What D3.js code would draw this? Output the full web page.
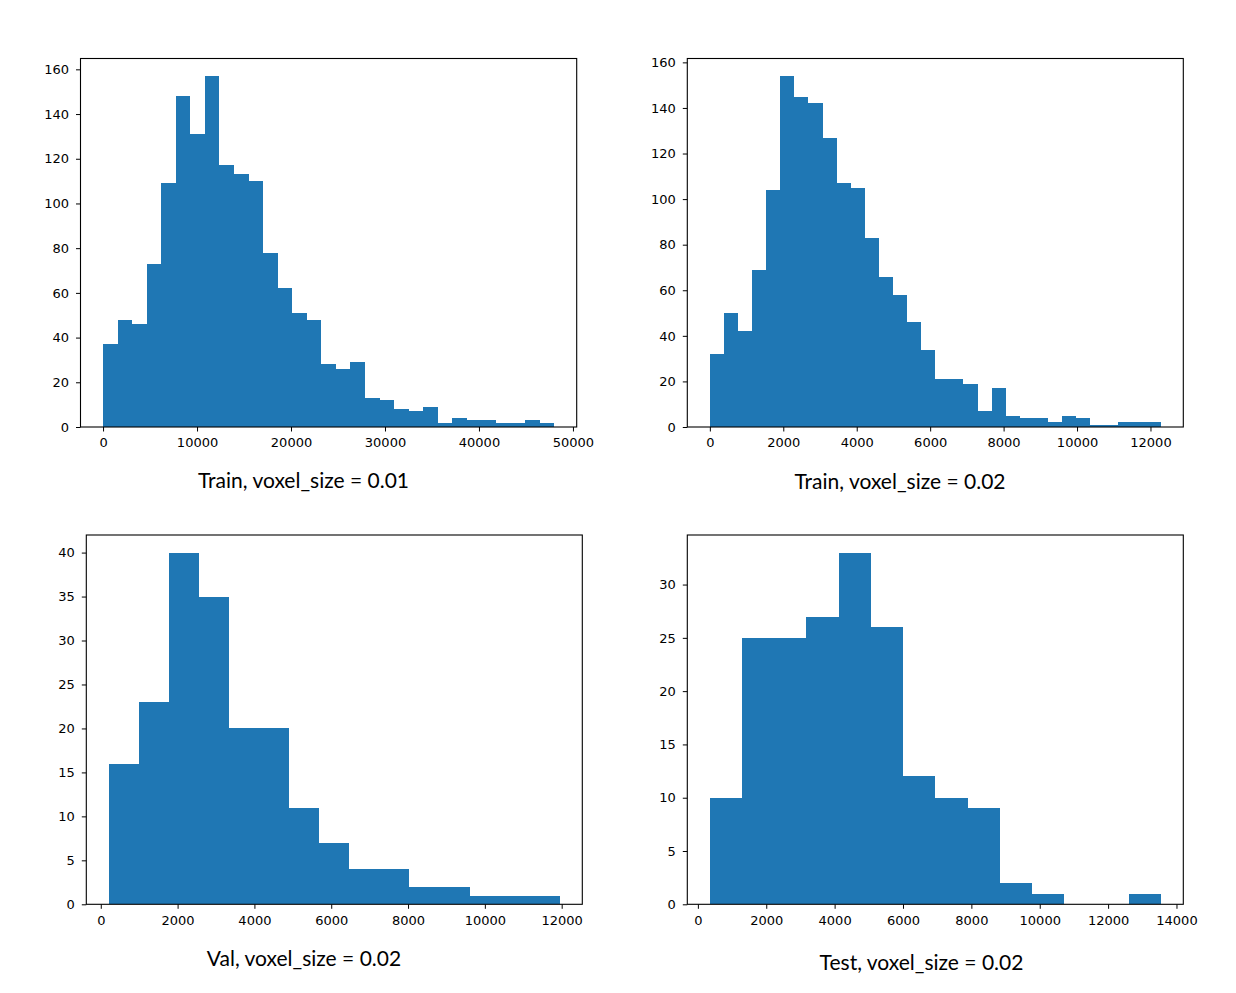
<!DOCTYPE html>
<html>
<head>
<meta charset="utf-8">
<script src="https://cdn.jsdelivr.net/npm/d3@7"></script>
<style>
    body { margin: 0; background: #fff; }
    .tick text { font-family: "DejaVu Sans", sans-serif; font-size: 13px; fill: #000; }
    .tick line { stroke: #000; }
    .domain { display: none; }
</style>
</head>
<body>
<script>

// histogram counts
var trainCounts001 = [37, 48, 46, 73, 109, 148, 131, 157, 117, 113, 110, 78, 62, 51, 48, 28,
    26, 29, 13, 12, 8, 7, 9, 2, 4, 3, 3, 2, 2, 3, 2];
var trainCounts002 = [32, 50, 42, 69, 104, 154, 145, 142, 127, 107, 105, 83, 66, 58, 46, 34,
    21, 21, 19, 7, 17, 5, 4, 4, 2, 5, 4, 1, 1, 2, 2, 2];
var valCounts = [16, 23, 40, 35, 20, 20, 11, 7, 4, 4, 2, 2, 1, 1, 1];
var testCounts = [10, 25, 25, 27, 33, 26, 12, 10, 9, 2, 1, 0, 0, 1];

// first and last bin edge of each histogram
var trainRange001 = [0, 48000];
var trainRange002 = [0, 12280];
var valRange = [210, 11950];
var testRange = [350, 13540];

// tick labels
var xTicks1 = [0, 10000, 20000, 30000, 40000, 50000];
var xTicks2 = [0, 2000, 4000, 6000, 8000, 10000, 12000];
var xTicks3 = [0, 2000, 4000, 6000, 8000, 10000, 12000];
var xTicks4 = [0, 2000, 4000, 6000, 8000, 10000, 12000, 14000];
var yTicks1 = [0, 20, 40, 60, 80, 100, 120, 140, 160];
var yTicks2 = [0, 20, 40, 60, 80, 100, 120, 140, 160];
var yTicks3 = [0, 5, 10, 15, 20, 25, 30, 35, 40];
var yTicks4 = [0, 5, 10, 15, 20, 25, 30];

var titles = ["Train, voxel_size = 0.01", "Train, voxel_size = 0.02",
    "Val, voxel_size = 0.02", "Test, voxel_size = 0.02"];


var svg = d3.select("body")
    .append("svg")
    .attr("width", 1236)
    .attr("height", 993);

var panels = [
    {counts: trainCounts001, range: trainRange001, xt: xTicks1, yt: yTicks1, title: titles[0],
        x0: 80.5, x1: 576.7, y0: 58.5, y1: 427, tx: 303.5, ty: 488},
    {counts: trainCounts002, range: trainRange002, xt: xTicks2, yt: yTicks2, title: titles[1],
        x0: 687.3, x1: 1183.3, y0: 58.5, y1: 427, tx: 900, ty: 489},
    {counts: valCounts, range: valRange, xt: xTicks3, yt: yTicks3, title: titles[2],
        x0: 86.3, x1: 582.3, y0: 535, y1: 904.3, tx: 304, ty: 966},
    {counts: testCounts, range: testRange, xt: xTicks4, yt: yTicks4, title: titles[3],
        x0: 687.3, x1: 1183.3, y0: 535, y1: 904.3, tx: 921.5, ty: 970}
];

panels.forEach(function (p) {
    var n = p.counts.length;
    var lo = p.range[0], hi = p.range[1];
    var w = (hi - lo) / n;
    var margin = (hi - lo) * 0.05;

    var bins = p.counts.map(function (c, i) {
        return {a: lo + i * w, b: lo + (i + 1) * w, c: c};
    });

    var xScale = d3.scaleLinear()
        .domain([lo - margin, hi + margin])
        .range([p.x0, p.x1]);

    var yScale = d3.scaleLinear()
        .domain([0, d3.max(p.counts) * 1.05])
        .range([p.y1, p.y0]);

    var g = svg.append("g");

    // rounded edges so neighbouring bars don't leave seams
    g.selectAll("rect.bar")
        .data(bins.filter(function (d) { return d.c > 0; }))
        .enter()
        .append("rect")
        .attr("class", "bar")
        .attr("shape-rendering", "crispEdges")
        .attr("x", function (d) {
            return Math.round(xScale(d.a));
        })
        .attr("width", function (d) {
            return Math.round(xScale(d.b)) - Math.round(xScale(d.a));
        })
        .attr("y", function (d) {
            return Math.round(yScale(d.c));
        })
        .attr("height", function (d) {
            return Math.round(yScale(0)) - Math.round(yScale(d.c));
        })
        .attr("fill", "#1f77b4");

    g.append("g")
        .attr("transform", "translate(0," + p.y1 + ")")
        .call(d3.axisBottom(xScale).tickValues(p.xt).tickFormat(d3.format("d"))
            .tickSize(4.5).tickPadding(6.5));

    g.append("g")
        .attr("transform", "translate(" + p.x0 + ",0)")
        .call(d3.axisLeft(yScale).tickValues(p.yt).tickFormat(d3.format("d"))
            .tickSize(4.5).tickPadding(7));

    // frame round the plot area
    g.append("rect")
        .attr("x", p.x0)
        .attr("y", p.y0)
        .attr("width", p.x1 - p.x0)
        .attr("height", p.y1 - p.y0)
        .attr("fill", "none")
        .attr("stroke", "#000")
        .attr("stroke-width", 1.1);

    svg.append("text")
        .attr("x", p.tx)
        .attr("y", p.ty)
        .style("text-anchor", "middle")
        .style("font-family", "Lato, sans-serif")
        .style("font-size", "21px")
        .attr("fill", "#000")
        .text(p.title);
});

</script>
</body>
</html>
